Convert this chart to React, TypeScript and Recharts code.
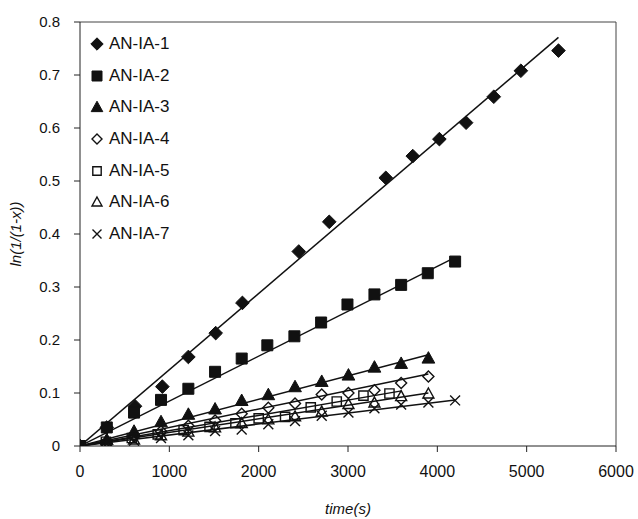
import React from 'react';
import { ScatterChart, Scatter, XAxis, YAxis, ReferenceLine, Legend } from 'recharts';

// ---- data ----
const seriesNames = ['AN-IA-1', 'AN-IA-2', 'AN-IA-3', 'AN-IA-4', 'AN-IA-5', 'AN-IA-6', 'AN-IA-7'];

const an1Time = [0, 300, 616, 922, 1213, 1519, 1818, 2449, 2790, 3423, 3725, 4023, 4322, 4632, 4935, 5356];
const an1Val = [0, 0.035, 0.075, 0.112, 0.168, 0.213, 0.27, 0.367, 0.423, 0.506, 0.547, 0.579, 0.61, 0.659, 0.708, 0.746];

const an2Time = [0, 300, 605, 907, 1213, 1512, 1810, 2097, 2400, 2699, 2994, 3296, 3595, 3893, 4199];
const an2Val = [0, 0.035, 0.063, 0.087, 0.108, 0.14, 0.165, 0.19, 0.207, 0.233, 0.267, 0.286, 0.304, 0.326, 0.348];

const an3Time = [0, 300, 605, 907, 1213, 1512, 1810, 2108, 2407, 2706, 3005, 3296, 3595, 3900];
const an3Val = [0, 0.012, 0.028, 0.046, 0.06, 0.07, 0.086, 0.097, 0.112, 0.122, 0.134, 0.149, 0.156, 0.166];

const an4Time = [0, 300, 605, 907, 1213, 1512, 1810, 2108, 2407, 2706, 3005, 3296, 3595, 3900];
const an4Val = [0, 0.008, 0.018, 0.028, 0.038, 0.048, 0.061, 0.072, 0.08, 0.097, 0.1, 0.105, 0.119, 0.131];

const an5Time = [0, 290, 580, 870, 1160, 1450, 1740, 2000, 2296, 2583, 2874, 3173, 3464];
const an5Val = [0, 0.008, 0.015, 0.022, 0.03, 0.036, 0.043, 0.052, 0.055, 0.073, 0.084, 0.095, 0.099];

const an6Time = [0, 300, 605, 907, 1213, 1512, 1810, 2108, 2407, 2706, 3005, 3296, 3595, 3900];
const an6Val = [0, 0.006, 0.012, 0.02, 0.027, 0.035, 0.043, 0.05, 0.056, 0.065, 0.079, 0.082, 0.094, 0.099];

const an7Time = [0, 300, 605, 907, 1213, 1512, 1810, 2108, 2407, 2706, 3005, 3296, 3595, 3900, 4199];
const an7Val = [0, 0.004, 0.01, 0.015, 0.02, 0.028, 0.031, 0.041, 0.047, 0.057, 0.063, 0.071, 0.078, 0.082, 0.086];

// linear fit lines: start at origin, end points
const fitEndTime = [5356, 4200, 3900, 3900, 3600, 3900, 4200];
const fitEndVal = [0.771, 0.356, 0.172, 0.136, 0.104, 0.1, 0.087];

const xTicks = [0, 1000, 2000, 3000, 4000, 5000, 6000];
const yTicks = [0, 0.1, 0.2, 0.3, 0.4, 0.5, 0.6, 0.7, 0.8];

const allTimes = [an1Time, an2Time, an3Time, an4Time, an5Time, an6Time, an7Time];
const allVals = [an1Val, an2Val, an3Val, an4Val, an5Val, an6Val, an7Val];
const markerKinds = ['diamondFilled', 'squareFilled', 'triangleFilled', 'diamondOpen', 'squareOpen', 'triangleOpen', 'cross'];

const seriesData = allTimes.map((ts, i) => ts.map((t, j) => ({ t, v: allVals[i][j] })));
const fitData = fitEndTime.map((t, i) => [{ t: 0, v: 0 }, { t, v: fitEndVal[i] }]);

const FONT = '"Liberation Sans", Arial, sans-serif';

function markerPath(kind: string, cx: number, cy: number, s: number) {
  switch (kind) {
    case 'diamondFilled':
    case 'diamondOpen': {
      const r = kind === 'diamondFilled' ? s * 0.62 : s * 0.5;
      return `M${cx},${cy - r}L${cx + r},${cy}L${cx},${cy + r}L${cx - r},${cy}Z`;
    }
    case 'squareFilled':
    case 'squareOpen': {
      const r = kind === 'squareFilled' ? s * 0.5 : s * 0.42;
      return `M${cx - r},${cy - r}H${cx + r}V${cy + r}H${cx - r}Z`;
    }
    case 'triangleFilled':
    case 'triangleOpen': {
      const r = kind === 'triangleFilled' ? s * 0.58 : s * 0.5;
      return `M${cx},${cy - r}L${cx + r},${cy + r * 0.8}L${cx - r},${cy + r * 0.8}Z`;
    }
    default: {
      const r = s * 0.45;
      return `M${cx - r},${cy - r}L${cx + r},${cy + r}M${cx + r},${cy - r}L${cx - r},${cy + r}`;
    }
  }
}

function Marker({ kind, cx, cy, size = 11 }: { kind: string; cx: number; cy: number; size?: number }) {
  const filled = kind.endsWith('Filled');
  return (
    <path
      d={markerPath(kind, cx, cy, size)}
      fill={filled ? '#111' : 'none'}
      stroke="#111"
      strokeWidth={filled ? 1 : 1.4}
    />
  );
}

const makeShape = (kind: string) => (props: any) => {
  const { cx, cy } = props;
  if (cx == null || cy == null) return <g />;
  return <Marker kind={kind} cx={cx} cy={cy} />;
};

const LegendContent = () => (
  <div style={{ fontFamily: FONT, fontSize: 17, color: '#111' }}>
    {seriesNames.map((n, i) => (
      <div key={n} style={{ display: 'flex', alignItems: 'center', height: 31.7 }}>
        <svg width={16} height={16} style={{ marginRight: 4 }}>
          <Marker kind={markerKinds[i]} cx={8} cy={8} size={10} />
        </svg>
        <span>{n}</span>
      </div>
    ))}
  </div>
);

const YLabel = (props: any) => {
  const vb = props.viewBox || {};
  const x = 15;
  const y = vb.y + vb.height / 2;
  return (
    <text
      x={x}
      y={y}
      transform={`rotate(-90, ${x}, ${y})`}
      textAnchor="middle"
      dominantBaseline="central"
      fontFamily={FONT}
      fontStyle="italic"
      fontSize={15}
      fill="#111"
    >
      ln(1/(1-x))
    </text>
  );
};

const XLabel = (props: any) => {
  const vb = props.viewBox || {};
  return (
    <text
      x={vb.x + vb.width / 2}
      y={508}
      textAnchor="middle"
      dominantBaseline="central"
      fontFamily={FONT}
      fontStyle="italic"
      fontSize={15}
      fill="#111"
    >
      time(s)
    </text>
  );
};

export default function App() {
  return (
    <div style={{ position: 'absolute', left: 0, top: 0, background: '#fff' }}>
      <ScatterChart
        width={638}
        height={519}
        margin={{ top: 22, right: 22, bottom: 13, left: 0 }}
      >
        <XAxis
          type="number"
          dataKey="t"
          domain={[0, 6000]}
          ticks={xTicks}
          interval={0}
          allowDataOverflow
          tickSize={6}
          tickMargin={14}
          height={60}
          stroke="#222"
          tick={{ fill: '#111', fontSize: 16, fontFamily: FONT }}
          label={<XLabel />}
        />
        <YAxis
          type="number"
          dataKey="v"
          domain={[0, 0.8]}
          ticks={yTicks}
          interval={0}
          allowDataOverflow
          width={80}
          tickSize={6}
          tickMargin={14}
          stroke="#222"
          tick={{ fill: '#111', fontSize: 15, fontFamily: FONT }}
          label={<YLabel />}
        />
        <ReferenceLine y={0.8} stroke="#444" strokeWidth={1} />
        <ReferenceLine x={6000} stroke="#444" strokeWidth={1} />
        {fitData.map((d, i) => (
          <Scatter
            key={'fit' + i}
            data={d}
            line={{ stroke: '#111', strokeWidth: 1.5 }}
            shape={() => <g />}
            legendType="none"
            isAnimationActive={false}
          />
        ))}
        {seriesData.map((d, i) => (
          <Scatter
            key={seriesNames[i]}
            name={seriesNames[i]}
            data={d}
            shape={makeShape(markerKinds[i])}
            isAnimationActive={false}
          />
        ))}
        <Legend
          layout="vertical"
          align="center"
          verticalAlign="middle"
          content={<LegendContent />}
          wrapperStyle={{ position: 'absolute', left: 89, top: 28, width: 110, height: 230 }}
        />
      </ScatterChart>
    </div>
  );
}
